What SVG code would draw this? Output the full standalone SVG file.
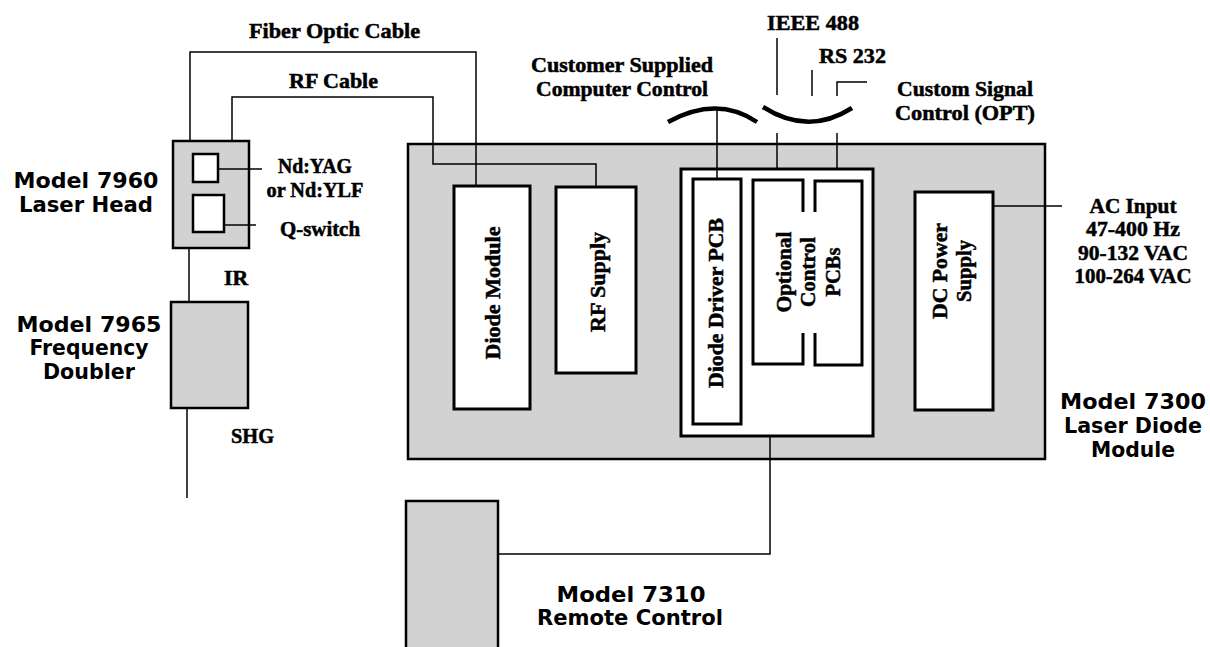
<svg xmlns="http://www.w3.org/2000/svg" width="1210" height="647" viewBox="0 0 1210 647">
<style>
.bg{fill:#ffffff}
.shade{fill:#d2d2d2;stroke:#000;stroke-width:2.5}
.white{fill:#ffffff;stroke:#000;stroke-width:3}
.wire{fill:none;stroke:#000;stroke-width:1.5}
.arc{fill:none;stroke:#000;stroke-width:4.5;stroke-linecap:butt}
.serif{font-family:"Liberation Serif","Times New Roman",serif;font-weight:bold;font-size:21px;fill:#000;stroke:#000;stroke-width:0.5}
.sans{font-family:"DejaVu Sans","Liberation Sans",sans-serif;font-weight:bold;font-size:22px;fill:#000}
</style>
<rect class="bg" x="0" y="0" width="1210" height="647"/>

<g id="laser-diode-module">
  <rect class="shade" x="408" y="144" width="637" height="315"/>
  <text class="sans" text-anchor="middle"><tspan x="1133" y="409" textLength="146" lengthAdjust="spacingAndGlyphs">Model 7300</tspan><tspan x="1133" y="433" textLength="138" lengthAdjust="spacingAndGlyphs">Laser Diode</tspan><tspan x="1133" y="457" textLength="84" lengthAdjust="spacingAndGlyphs">Module</tspan></text>
</g>

<g id="laser-head">
  <rect class="shade" x="173" y="141" width="76" height="107"/>
  <rect fill="#fff" stroke="#000" stroke-width="2.5" x="193" y="154" width="25" height="28"/>
  <rect fill="#fff" stroke="#000" stroke-width="2.5" x="193" y="195" width="31" height="37"/>
  <text class="sans" text-anchor="middle"><tspan x="86" y="188" textLength="145" lengthAdjust="spacingAndGlyphs">Model 7960</tspan><tspan x="86" y="212" textLength="134" lengthAdjust="spacingAndGlyphs">Laser Head</tspan></text>
  <text class="serif" text-anchor="middle" style="font-size:20px"><tspan x="315" y="173" textLength="74" lengthAdjust="spacingAndGlyphs">Nd:YAG</tspan><tspan x="315" y="197" textLength="97" lengthAdjust="spacingAndGlyphs">or Nd:YLF</tspan></text>
  <text class="serif" x="280" y="236" textLength="80" lengthAdjust="spacingAndGlyphs">Q-switch</text>
</g>

<g id="frequency-doubler">
  <rect class="shade" x="171" y="302" width="77" height="106"/>
  <text class="sans" text-anchor="middle"><tspan x="89" y="332" textLength="145" lengthAdjust="spacingAndGlyphs">Model 7965</tspan><tspan x="89" y="355" textLength="119" lengthAdjust="spacingAndGlyphs">Frequency</tspan><tspan x="89" y="379" textLength="92" lengthAdjust="spacingAndGlyphs">Doubler</tspan></text>
</g>

<g id="diode-module">
  <rect class="white" x="454" y="186" width="76" height="223"/>
  <text class="serif" transform="translate(493,293) rotate(-90)" text-anchor="middle" dominant-baseline="central" textLength="133" lengthAdjust="spacingAndGlyphs">Diode Module</text>
</g>

<g id="rf-supply">
  <rect class="white" x="556" y="187" width="80" height="186"/>
  <text class="serif" transform="translate(598,282) rotate(-90)" text-anchor="middle" dominant-baseline="central" textLength="100" lengthAdjust="spacingAndGlyphs">RF Supply</text>
</g>

<g id="driver-enclosure">
  <rect class="white" x="681" y="169" width="192" height="267"/>
</g>

<g id="diode-driver-pcb">
  <rect class="white" x="693" y="179" width="48" height="245"/>
  <text class="serif" transform="translate(716,303) rotate(-90)" text-anchor="middle" dominant-baseline="central" textLength="170" lengthAdjust="spacingAndGlyphs">Diode Driver PCB</text>
</g>

<g id="optional-control-pcbs">
  <path d="M803,212 V180 H753 V364 H803 V333" fill="none" stroke="#000" stroke-width="3"/>
  <path d="M815,212 V181 H862 V365 H815 V333" fill="none" stroke="#000" stroke-width="3"/>
  <text class="serif" transform="translate(808,272) rotate(-90)" text-anchor="middle" dominant-baseline="central"><tspan x="0" y="-24.5" textLength="81" lengthAdjust="spacingAndGlyphs">Optional</tspan><tspan x="0" y="0" textLength="70" lengthAdjust="spacingAndGlyphs">Control</tspan><tspan x="0" y="24.5" textLength="49" lengthAdjust="spacingAndGlyphs">PCBs</tspan></text>
</g>

<g id="dc-power-supply">
  <rect class="white" x="915" y="192" width="78" height="218"/>
  <text class="serif" transform="translate(952,271) rotate(-90)" text-anchor="middle" dominant-baseline="central"><tspan x="0" y="-12" textLength="96" lengthAdjust="spacingAndGlyphs">DC Power</tspan><tspan x="0" y="12" textLength="62" lengthAdjust="spacingAndGlyphs">Supply</tspan></text>
</g>

<g id="remote-control">
  <rect class="shade" x="406" y="501" width="92" height="160"/>
  <text class="sans" text-anchor="middle"><tspan x="631" y="602" textLength="149" lengthAdjust="spacingAndGlyphs">Model 7310</tspan><tspan x="630" y="625" textLength="186" lengthAdjust="spacingAndGlyphs">Remote Control</tspan></text>
</g>

<g id="connectors">
  <path class="wire" d="M190,141 V52 H476 V186"/>
  <path class="wire" d="M232,141 V97 H433 V164 H596 V187"/>
  <path class="wire" d="M218,169 H262"/>
  <path class="wire" d="M224,225 H256"/>
  <path class="wire" d="M189,248 V302"/>
  <path class="wire" d="M187,408 V498"/>
  <path class="arc" d="M668,122 Q717,95 757,122"/>
  <path class="wire" d="M717,108 V179"/>
  <path class="arc" d="M763,107 Q808,136 852,108"/>
  <path class="wire" d="M777,38 V95"/>
  <path class="wire" d="M812,70 V96"/>
  <path class="wire" d="M837,96 V82 H867"/>
  <path class="wire" d="M777,133 V169"/>
  <path class="wire" d="M837,133 V169"/>
  <path class="wire" d="M993,206 H1062"/>
  <path class="wire" d="M498,554 H770 V436"/>
</g>

<g id="labels">
  <text class="serif" x="249" y="38" textLength="171" lengthAdjust="spacingAndGlyphs">Fiber Optic Cable</text>
  <text class="serif" x="289" y="88" textLength="89" lengthAdjust="spacingAndGlyphs">RF Cable</text>
  <text class="serif" x="224" y="285" textLength="24" lengthAdjust="spacingAndGlyphs">IR</text>
  <text class="serif" x="231" y="443" textLength="43" lengthAdjust="spacingAndGlyphs">SHG</text>
  <text class="serif" text-anchor="middle"><tspan x="622" y="72" textLength="182" lengthAdjust="spacingAndGlyphs">Customer Supplied</tspan><tspan x="622" y="96" textLength="172" lengthAdjust="spacingAndGlyphs">Computer Control</tspan></text>
  <text class="serif" x="767" y="30" textLength="92" lengthAdjust="spacingAndGlyphs">IEEE 488</text>
  <text class="serif" x="819" y="63" textLength="67" lengthAdjust="spacingAndGlyphs">RS 232</text>
  <text class="serif" text-anchor="middle"><tspan x="965" y="96" textLength="136" lengthAdjust="spacingAndGlyphs">Custom Signal</tspan><tspan x="965" y="120" textLength="140" lengthAdjust="spacingAndGlyphs">Control (OPT)</tspan></text>
  <text class="serif" text-anchor="middle"><tspan x="1133" y="213" textLength="87" lengthAdjust="spacingAndGlyphs">AC Input</tspan><tspan x="1133" y="236" textLength="94" lengthAdjust="spacingAndGlyphs">47-400 Hz</tspan><tspan x="1133" y="260" textLength="110" lengthAdjust="spacingAndGlyphs">90-132 VAC</tspan><tspan x="1133" y="283" textLength="117" lengthAdjust="spacingAndGlyphs">100-264 VAC</tspan></text>
</g>
</svg>
